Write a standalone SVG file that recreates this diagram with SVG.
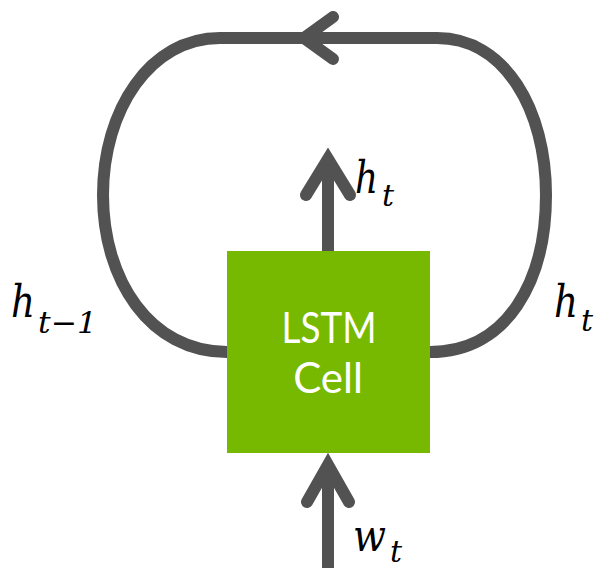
<svg xmlns="http://www.w3.org/2000/svg" width="598" height="568" viewBox="0 0 598 568">
  <style>
    .wire { fill: none; stroke: #525252; stroke-width: 12; stroke-linecap: round; stroke-linejoin: miter; stroke-miterlimit: 10; }
    .shaft { fill: none; stroke: #525252; stroke-width: 12; stroke-linecap: butt; }
    .math { font-family: "DejaVu Serif", "Liberation Serif", serif; font-style: italic; fill: #000; }
    .big { font-size: 45px; }
    .sub { font-size: 30px; }
    .cell-label { font-family: Lato, "Noto Sans", "DejaVu Sans", sans-serif; font-size: 42px; fill: #ffffff; text-anchor: middle; }
  </style>

  <g id="connectors">
    <!-- recurrent loop from the right side of the cell back to the left side -->
    <path class="wire" stroke-linecap="butt" d="M227,352 C150,352 103,280 103,195 C103,110 150,38 220,38 L437,38 C505,38 546,110 546,195 C546,280 508,352 430,352"/>
    <!-- direction chevron on the loop -->
    <polyline class="wire" points="333,17 304,38 333,59"/>
    <!-- output arrow -->
    <line class="shaft" x1="328" y1="251" x2="328" y2="162"/>
    <polyline class="wire" points="306,195 328,159 350,195"/>
    <!-- input arrow -->
    <line class="shaft" x1="328" y1="568" x2="328" y2="468"/>
    <polyline class="wire" points="307,502 328,465 349,502"/>
  </g>

  <g id="lstm-cell">
    <rect x="227" y="251" width="203" height="202" fill="#76b900"/>
    <text class="cell-label" x="329" y="343" textLength="95" lengthAdjust="spacingAndGlyphs">LSTM</text>
    <text class="cell-label" x="328" y="393">Cell</text>
  </g>

  <g id="label-h-out">
    <text class="math big" x="355" y="193" textLength="23" lengthAdjust="spacingAndGlyphs">h</text>
    <text class="math sub" x="382" y="206">t</text>
  </g>

  <g id="label-h-prev">
    <text class="math big" x="11" y="317" textLength="24" lengthAdjust="spacingAndGlyphs">h</text>
    <text class="math sub" x="38" y="333" textLength="59" lengthAdjust="spacingAndGlyphs">t−1</text>
  </g>

  <g id="label-h-loop">
    <text class="math big" x="554" y="317" textLength="24" lengthAdjust="spacingAndGlyphs">h</text>
    <text class="math sub" x="581" y="331">t</text>
  </g>

  <g id="label-w-in">
    <text class="math big" x="353" y="551" textLength="33" lengthAdjust="spacingAndGlyphs">w</text>
    <text class="math sub" x="390" y="562">t</text>
  </g>
</svg>
